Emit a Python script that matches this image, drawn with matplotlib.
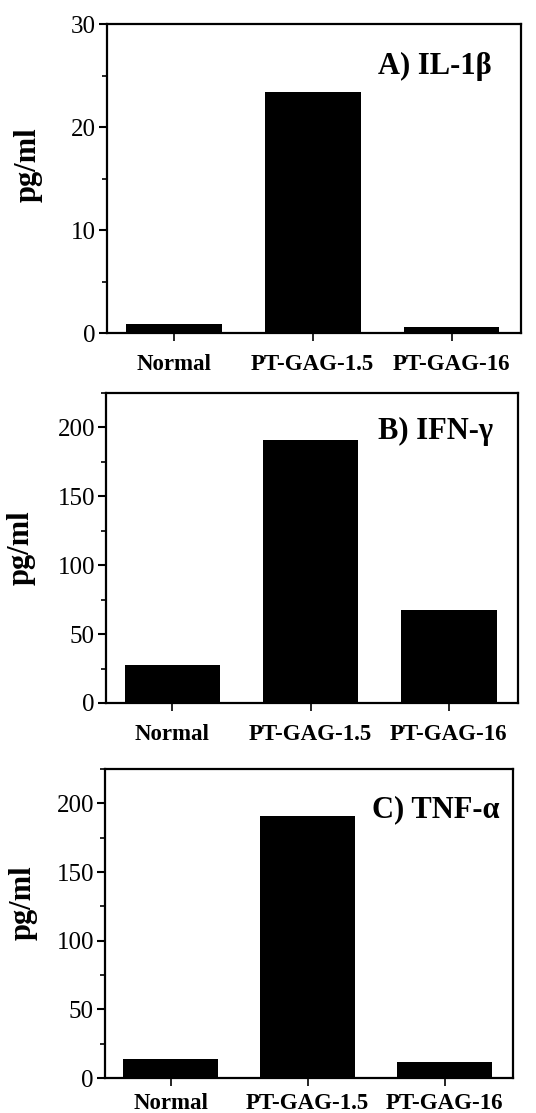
import numpy as np
import matplotlib
matplotlib.use("Agg")
import matplotlib.pyplot as plt
from matplotlib.ticker import MultipleLocator

plt.rcParams['font.family'] = ['Liberation Serif', 'DejaVu Serif']

groups = ["Normal", "PT-GAG-1.5", "PT-GAG-16"]
il1b = [0.9, 23.4, 0.6]
ifng = [27.6, 190.8, 67.6]
tnfa = [13.9, 191.0, 11.7]
titles = ["A) IL-1\u03b2", "B) IFN-\u03b3", "C) TNF-\u03b1"]

fig = plt.figure(figsize=(5.36, 11.13), dpi=100)

# left, bottom, width, height in figure fraction
boxes = [
    [0.1996, 0.7008, 0.7724, 0.2776],
    [0.1978, 0.3684, 0.7687, 0.2785],
    [0.1959, 0.0314, 0.7612, 0.2776],
]
ylims = [(0, 30), (0, 225), (0, 225)]
majors = [10, 50, 50]
minors = [5, 25, 25]
title_pos = [(0.93, 0.91), (0.94, 0.922), (0.968, 0.917)]
ylab_pos = [(-0.155, 0.544), (-0.172, 0.5), (-0.164, 0.566)]
xpads = [9, 9, 5]

x = np.arange(len(groups))
for i, vals in enumerate([il1b, ifng, tnfa]):
    ax = fig.add_axes(boxes[i])
    ax.bar(x, vals, width=0.69, color='black')
    ax.set_xlim(-0.48, 2.5)
    ax.set_ylim(*ylims[i])
    ax.yaxis.set_major_locator(MultipleLocator(majors[i]))
    ax.yaxis.set_minor_locator(MultipleLocator(minors[i]))
    ax.set_xticks(x)
    ax.set_xticklabels(groups, fontsize=16.5, fontweight='bold')
    ax.tick_params(axis='y', which='major', direction='out', length=6, width=1.5,
                   labelsize=18, pad=2)
    ax.tick_params(axis='y', which='minor', direction='out', length=3.5, width=1.2)
    ax.tick_params(axis='x', which='major', direction='out', length=6, width=1.2,
                   pad=xpads[i])
    ax.tick_params(top=False, right=False)
    for s in ax.spines.values():
        s.set_linewidth(1.6)
    ax.set_ylabel("pg/ml", fontsize=22, fontweight='bold')
    ax.yaxis.set_label_coords(*ylab_pos[i])
    ax.text(title_pos[i][0], title_pos[i][1], titles[i], transform=ax.transAxes,
            ha='right', va='top', fontsize=22, fontweight='bold')

fig.savefig("out.png", dpi=100)
